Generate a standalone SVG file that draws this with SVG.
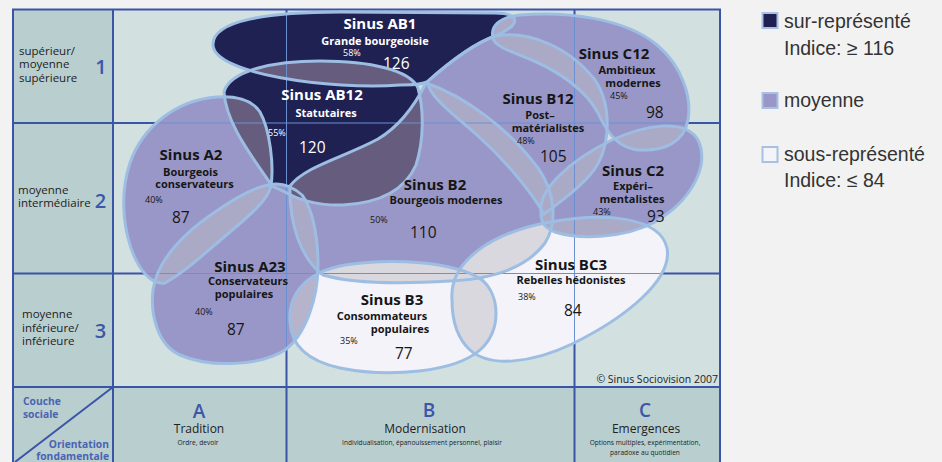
<svg xmlns="http://www.w3.org/2000/svg" width="942" height="462" viewBox="0 0 942 462">
<style>
.txt{font-family:"Open Sans","Noto Sans","Liberation Sans",sans-serif}
.grid{stroke:#3b55a6;stroke-width:2;fill:none}
.thin{stroke:#6a90d2;stroke-width:1;fill:none}
.edge{fill:none;stroke:#9dbde3;stroke-width:3}
.navy{fill:#1f2153}.lav{fill:#9997c7}.wht{fill:#f3f3f9}
.ovN{fill:#665c7e}.ovL{fill:#aaa9c6}.ovW{fill:#d8d8de}.ovM{fill:#b5b4cb}
.ttl{font-weight:700;font-size:15px;text-anchor:middle}
.sub{font-weight:700;font-size:11px;text-anchor:middle}
.pct{font-size:9px}
.num{font-size:15.5px}
.d{fill:#161616}.w{fill:#ffffff}
.side{font-size:11.5px;fill:#222}
.big{font-size:20px;font-weight:600;fill:#3c56a8;text-anchor:middle}
.col{font-size:19px;font-weight:600;fill:#3c56a8;text-anchor:middle}
.colt{font-size:12px;fill:#222;text-anchor:middle}
.small{font-size:6.6px;fill:#222;text-anchor:middle}
.axis{font-size:10.3px;font-weight:700;fill:#4a64b2}
.leg{font-family:"Liberation Sans",Arial,sans-serif;font-size:19.5px;fill:#333}
.sq{stroke:#a7c0e4;stroke-width:2}
</style>
<defs>
<path id="pAB1" d="M213,45 C212,20 270,12 340,12 L495,13 C515,13 518,20 512,26 C506,31 500,34 495,36 C470,45 445,66 427,82 C420,85 412,85 400,85 C330,90 214,74 213,45 Z"/>
<path id="pAB12" d="M224,92 C230,70 275,61 320,61 C370,61 410,70 418,88 C424,110 424,140 416,165 C405,190 380,203 343,205 C315,206 295,198 285,192 L272,186 C255,160 226,125 224,92 Z"/>
<path id="pA2" d="M217,97 C235,96 252,100 260,112 C270,130 274,165 271,186 C268,200 250,215 230,232 C205,253 185,272 165,283 C150,285 138,268 131,248 C122,222 121,190 130,163 C142,128 175,100 217,97 Z"/>
<path id="pA23" d="M268,185 C280,182 292,186 302,195 C312,208 318,235 318,265 C318,300 305,335 285,350 C260,366 210,368 180,355 C158,345 150,315 153,290 C157,260 185,232 215,212 C235,198 252,188 268,185 Z"/>
<path id="pB2" d="M290,186 C305,166 345,157 378,139 C400,126 415,105 426,83 C465,96 510,130 538,168 C555,192 558,222 545,243 C528,266 495,279 450,281 C400,284 350,283 323,275 C300,258 289,222 290,186 Z"/>
<path id="pB12" d="M427,82 C445,66 470,45 495,36 C530,30 570,48 595,80 C612,105 612,150 590,175 C575,192 556,205 544,214 C530,190 505,160 478,136 C455,115 432,100 427,82 Z"/>
<path id="pC12" d="M493,38 C490,26 500,17 520,15 C565,11 625,18 657,45 C682,66 692,97 688,120 C684,142 665,151 640,150 C620,149 608,135 598,113 C587,92 562,73 532,60 C512,52 494,46 493,38 Z"/>
<path id="pC2" d="M541,212 C538,190 570,160 612,140 C645,125 685,118 698,140 C710,165 692,200 655,222 C625,238 580,240 555,232 C542,227 541,220 541,212 Z"/>
<path id="pB3" d="M290,322 C288,295 305,272 345,265 C390,258 455,261 482,280 C500,295 502,330 480,350 C455,372 390,378 340,368 C308,361 291,345 290,322 Z"/>
<path id="pBC3" d="M452,300 C449,262 490,233 550,222 C605,212 660,217 667,248 C673,280 625,318 572,344 C532,363 490,368 470,350 C457,338 452,320 452,300 Z"/>
<clipPath id="cAB1"><use href="#pAB1"/></clipPath>
<clipPath id="cAB12"><use href="#pAB12"/></clipPath>
<clipPath id="cA2"><use href="#pA2"/></clipPath>
<clipPath id="cA23"><use href="#pA23"/></clipPath>
<clipPath id="cB2"><use href="#pB2"/></clipPath>
<clipPath id="cB12"><use href="#pB12"/></clipPath>
<clipPath id="cC12"><use href="#pC12"/></clipPath>
<clipPath id="cC2"><use href="#pC2"/></clipPath>
<clipPath id="cB3"><use href="#pB3"/></clipPath>
<clipPath id="cBC3"><use href="#pBC3"/></clipPath>
<clipPath id="cAll">
<use href="#pAB1"/><use href="#pAB12"/><use href="#pA2"/><use href="#pA23"/><use href="#pB2"/>
<use href="#pB12"/><use href="#pC12"/><use href="#pC2"/><use href="#pB3"/><use href="#pBC3"/>
</clipPath>
</defs>

<rect x="0" y="0" width="942" height="462" fill="#f2f2f2"/>
<g id="grid">
<rect x="113" y="9.5" width="607" height="377.5" fill="#d2e0e0"/>
<rect x="13" y="9.5" width="100" height="377.5" fill="#b9cecf"/>
<rect x="13" y="387" width="707" height="80" fill="#b9cecf"/>
<rect class="grid" x="13" y="9.5" width="707" height="470"/>
<line class="grid" x1="113" y1="9.5" x2="113" y2="462"/>
<line class="grid" x1="286.5" y1="9.5" x2="286.5" y2="462"/>
<line class="grid" x1="574.5" y1="9.5" x2="574.5" y2="462"/>
<line class="grid" x1="13" y1="123" x2="720" y2="123"/>
<line class="grid" x1="13" y1="273.5" x2="720" y2="273.5"/>
<line class="grid" x1="13" y1="387" x2="720" y2="387"/>
<line class="grid" x1="113" y1="387" x2="15" y2="462"/>
</g>

<g id="regions">
<use href="#pAB1" class="navy"/>
<use href="#pAB12" class="navy"/>
<use href="#pA2" class="lav"/>
<use href="#pA23" class="lav"/>
<use href="#pB2" class="lav"/>
<use href="#pB12" class="lav"/>
<use href="#pC12" class="lav"/>
<use href="#pC2" class="lav"/>
<use href="#pB3" class="wht"/>
<use href="#pBC3" class="wht"/>
<use href="#pB3" class="ovW" clip-path="url(#cB2)"/>
<use href="#pB3" class="ovW" clip-path="url(#cBC3)"/>
<use href="#pBC3" class="ovW" clip-path="url(#cB2)"/>
<use href="#pB3" class="ovM" clip-path="url(#cA23)"/>
<use href="#pA23" class="ovL" clip-path="url(#cA2)"/>
<use href="#pA23" class="ovL" clip-path="url(#cB2)"/>
<use href="#pB12" class="ovL" clip-path="url(#cB2)"/>
<use href="#pB12" class="ovL" clip-path="url(#cC12)"/>
<use href="#pB12" class="ovL" clip-path="url(#cC2)"/>
<use href="#pC12" class="ovL" clip-path="url(#cC2)"/>
<use href="#pB2" class="ovL" clip-path="url(#cC2)"/>
<use href="#pBC3" class="ovL" clip-path="url(#cC2)"/>
<use href="#pC12" class="ovL" clip-path="url(#cAB1)"/>
<use href="#pAB12" class="ovN" clip-path="url(#cAB1)"/>
<use href="#pAB12" class="ovN" clip-path="url(#cA2)"/>
<use href="#pAB12" class="ovN" clip-path="url(#cB2)"/>
</g>

<g id="grid-overlay" clip-path="url(#cAll)">
<line class="thin" x1="286.5" y1="9.5" x2="286.5" y2="387"/>
<line class="thin" x1="574.5" y1="9.5" x2="574.5" y2="387"/>
<line class="thin" x1="113" y1="123" x2="720" y2="123"/>
<line class="thin" x1="113" y1="273.5" x2="720" y2="273.5"/>
</g>

<g id="node-AB1" class="txt">
<use href="#pAB1" class="edge"/>
<text class="ttl w" x="380" y="29">Sinus AB1</text>
<text class="sub w" x="375" y="44.5">Grande bourgeoisie</text>
<text class="pct w" x="343" y="55.5">58%</text>
<text class="num w" x="383" y="69">126</text>
</g>
<g id="node-AB12" class="txt">
<use href="#pAB12" class="edge"/>
<text class="ttl w" x="322" y="100">Sinus AB12</text>
<text class="sub w" x="326" y="117">Statutaires</text>
<text class="pct w" x="268" y="136">55%</text>
<text class="num w" x="299" y="153">120</text>
</g>
<g id="node-A2" class="txt">
<use href="#pA2" class="edge"/>
<text class="ttl d" x="191" y="160">Sinus A2</text>
<text class="sub d" x="190.5" y="175.5">Bourgeois</text>
<text class="sub d" x="194.5" y="188">conservateurs</text>
<text class="pct d" x="145" y="203">40%</text>
<text class="num d" x="172" y="223">87</text>
</g>
<g id="node-A23" class="txt">
<use href="#pA23" class="edge"/>
<text class="ttl d" x="250" y="272">Sinus A23</text>
<text class="sub d" x="248" y="285">Conservateurs</text>
<text class="sub d" x="244" y="298">populaires</text>
<text class="pct d" x="195" y="315">40%</text>
<text class="num d" x="227" y="335">87</text>
</g>
<g id="node-B2" class="txt">
<use href="#pB2" class="edge"/>
<text class="ttl d" x="435" y="190">Sinus B2</text>
<text class="sub d" x="446" y="204">Bourgeois modernes</text>
<text class="pct d" x="370" y="223">50%</text>
<text class="num d" x="410" y="238">110</text>
</g>
<g id="node-B12" class="txt">
<use href="#pB12" class="edge"/>
<text class="ttl d" x="538" y="104">Sinus B12</text>
<text class="sub d" x="540" y="119">Post–</text>
<text class="sub d" x="548" y="132">matérialistes</text>
<text class="pct d" x="517" y="144">48%</text>
<text class="num d" x="540" y="162">105</text>
</g>
<g id="node-C12" class="txt">
<use href="#pC12" class="edge"/>
<text class="ttl d" x="614" y="59">Sinus C12</text>
<text class="sub d" x="627" y="74">Ambitieux</text>
<text class="sub d" x="633" y="87">modernes</text>
<text class="pct d" x="610" y="99">45%</text>
<text class="num d" x="646" y="118">98</text>
</g>
<g id="node-C2" class="txt">
<use href="#pC2" class="edge"/>
<text class="ttl d" x="633" y="176">Sinus C2</text>
<text class="sub d" x="633" y="190">Expéri–</text>
<text class="sub d" x="632" y="202.5">mentalistes</text>
<text class="pct d" x="593" y="215">43%</text>
<text class="num d" x="647" y="222">93</text>
</g>
<g id="node-B3" class="txt">
<use href="#pB3" class="edge"/>
<text class="ttl d" x="392" y="305">Sinus B3</text>
<text class="sub d" x="382" y="320">Consommateurs</text>
<text class="sub d" x="400" y="333">populaires</text>
<text class="pct d" x="340" y="344">35%</text>
<text class="num d" x="395" y="359">77</text>
</g>
<g id="node-BC3" class="txt">
<use href="#pBC3" class="edge"/>
<text class="ttl d" x="571" y="270">Sinus BC3</text>
<text class="sub d" x="571" y="284">Rebelles hédonistes</text>
<text class="pct d" x="518" y="300">38%</text>
<text class="num d" x="564" y="316">84</text>
</g>

<g id="rows" class="txt">
<text class="side" x="19" y="55">supérieur/</text>
<text class="side" x="19" y="68">moyenne</text>
<text class="side" x="19" y="82">supérieure</text>
<text class="big" x="101" y="74">1</text>
<text class="side" x="18" y="194">moyenne</text>
<text class="side" x="18" y="207">intermédiaire</text>
<text class="big" x="100.5" y="208">2</text>
<text class="side" x="22" y="318">moyenne</text>
<text class="side" x="22" y="332">inférieure/</text>
<text class="side" x="22" y="345">inférieure</text>
<text class="big" x="100.5" y="338">3</text>
</g>
<g id="columns" class="txt">
<text class="axis" x="23" y="405">Couche</text>
<text class="axis" x="23" y="418">sociale</text>
<text class="axis" x="109" y="448" text-anchor="end">Orientation</text>
<text class="axis" x="109" y="460" text-anchor="end">fondamentale</text>
<text class="col" x="199" y="418">A</text>
<text class="colt" x="199" y="433">Tradition</text>
<text class="small" x="198" y="445">Ordre, devoir</text>
<text class="col" x="429" y="417">B</text>
<text class="colt" x="425" y="433">Modernisation</text>
<text class="small" x="422" y="445">Individualisation, épanouissement personnel, plaisir</text>
<text class="col" x="645" y="417">C</text>
<text class="colt" x="646" y="433">Emergences</text>
<text class="small" x="645" y="445">Options multiples, expérimentation,</text>
<text class="small" x="645" y="455">paradoxe au quotidien</text>
<text x="718" y="383" text-anchor="end" font-size="10.5" fill="#222">© Sinus Sociovision 2007</text>
</g>

<g id="legend">
<rect class="sq" x="762.5" y="13" width="15" height="15" fill="#1f2153"/>
<text class="leg" x="784" y="28">sur-représenté</text>
<text class="leg" x="784" y="55">Indice: ≥ 116</text>
<rect class="sq" x="762.5" y="93" width="15" height="15" fill="#9997c7" stroke="#b3c4e8"/>
<text class="leg" x="784" y="107">moyenne</text>
<rect class="sq" x="762.5" y="147" width="15" height="15" fill="#f4f4f8"/>
<text class="leg" x="784" y="161">sous-représenté</text>
<text class="leg" x="784" y="187">Indice: ≤ 84</text>
</g>
</svg>
